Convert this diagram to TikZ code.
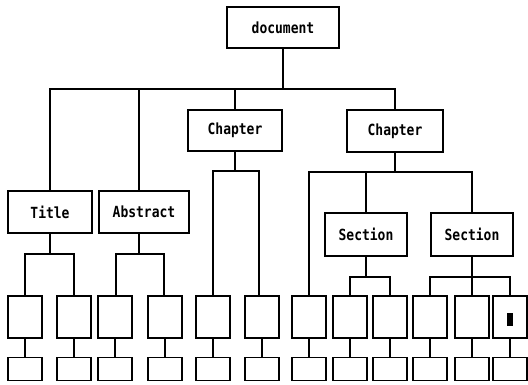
\documentclass[tikz,border=0pt]{standalone}
\usepackage{fontspec}
\newfontfamily\boxfont{DejaVu Sans Mono}
\newcommand{\boxtext}[1]{\scalebox{1}[1.18]{#1}}
\begin{document}
\begin{tikzpicture}[x=1pt,y=-1pt,
  labelbox/.style={draw,line width=1.5pt,inner sep=0pt,font=\boxfont\fontsize{13}{15}\selectfont\bfseries},
  leafbox/.style={draw,line width=1.5pt,inner sep=0pt,minimum width=34pt,minimum height=42pt},
  tinybox/.style={draw,line width=1.5pt,inner sep=0pt,minimum width=34pt,minimum height=23pt},
  link/.style={line width=1.5pt}]
\useasboundingbox (0,0) rectangle (528,384);

% labelled boxes
\node[labelbox,minimum width=112pt,minimum height=41pt] (doc) at (283,27.5) {\boxtext{document}};
\node[labelbox,minimum width=94pt,minimum height=41pt] (ch1) at (235,130.5) {\boxtext{Chapter}};
\node[labelbox,minimum width=96pt,minimum height=42pt] (ch2) at (395,131) {\boxtext{Chapter}};
\node[labelbox,minimum width=84pt,minimum height=42pt] (title) at (50,212) {\boxtext{Title}};
\node[labelbox,minimum width=90pt,minimum height=42pt] (abs) at (144,212) {\boxtext{Abstract}};
\node[labelbox,minimum width=82pt,minimum height=43pt] (sec1) at (366,234.5) {\boxtext{Section}};
\node[labelbox,minimum width=82pt,minimum height=43pt] (sec2) at (472,234.5) {\boxtext{Section}};

% empty leaf boxes with their small boxes below
\foreach \n/\x in {1/25,2/74,3/115,4/165,5/213,6/262,7/309,8/350,9/390,10/430,11/472,12/510}{
  \node[leafbox] (m\n) at (\x,317) {};
  \node[tinybox] (s\n) at (\x,369) {};
  \draw[link] (m\n.south) -- (s\n.north);
}

% small mark inside the last leaf box
\fill (507,313) rectangle (513,326);

% junction points of the buses
\coordinate (jdoc) at (283,89);
\coordinate (jch1) at (235,171);
\coordinate (jch2) at (395,172);
\coordinate (jtitle) at (50,254);
\coordinate (jabs) at (139,254);
\coordinate (jsec1) at (366,277);
\coordinate (jsec2) at (472,277);

% document level
\draw[link] (doc.south) -- (jdoc);
\draw[link] (title.north) |- (jdoc);
\draw[link] ([xshift=-5pt]abs.north) |- (jdoc);
\draw[link] (ch1.north) |- (jdoc);
\draw[link] (ch2.north) |- (jdoc);

% first chapter
\draw[link] (ch1.south) -- (jch1);
\draw[link] (m5.north) |- (jch1);
\draw[link] ([xshift=-3pt]m6.north) |- (jch1);

% second chapter
\draw[link] (ch2.south) -- (jch2);
\draw[link] (m7.north) |- (jch2);
\draw[link] (sec1.north) |- (jch2);
\draw[link] (sec2.north) |- (jch2);

% title and abstract
\draw[link] (title.south) -- (jtitle);
\draw[link] (m1.north) |- (jtitle);
\draw[link] (m2.north) |- (jtitle);
\draw[link] ([xshift=-5pt]abs.south) -- (jabs);
\draw[link] ([xshift=1pt]m3.north) |- (jabs);
\draw[link] ([xshift=-1pt]m4.north) |- (jabs);

% sections
\draw[link] (sec1.south) -- (jsec1);
\draw[link] (m8.north) |- (jsec1);
\draw[link] (m9.north) |- (jsec1);
\draw[link] (sec2.south) -- (jsec2);
\draw[link] (m10.north) |- (jsec2);
\draw[link] (m11.north) |- (jsec2);
\draw[link] (m12.north) |- (jsec2);
\end{tikzpicture}
\end{document}
